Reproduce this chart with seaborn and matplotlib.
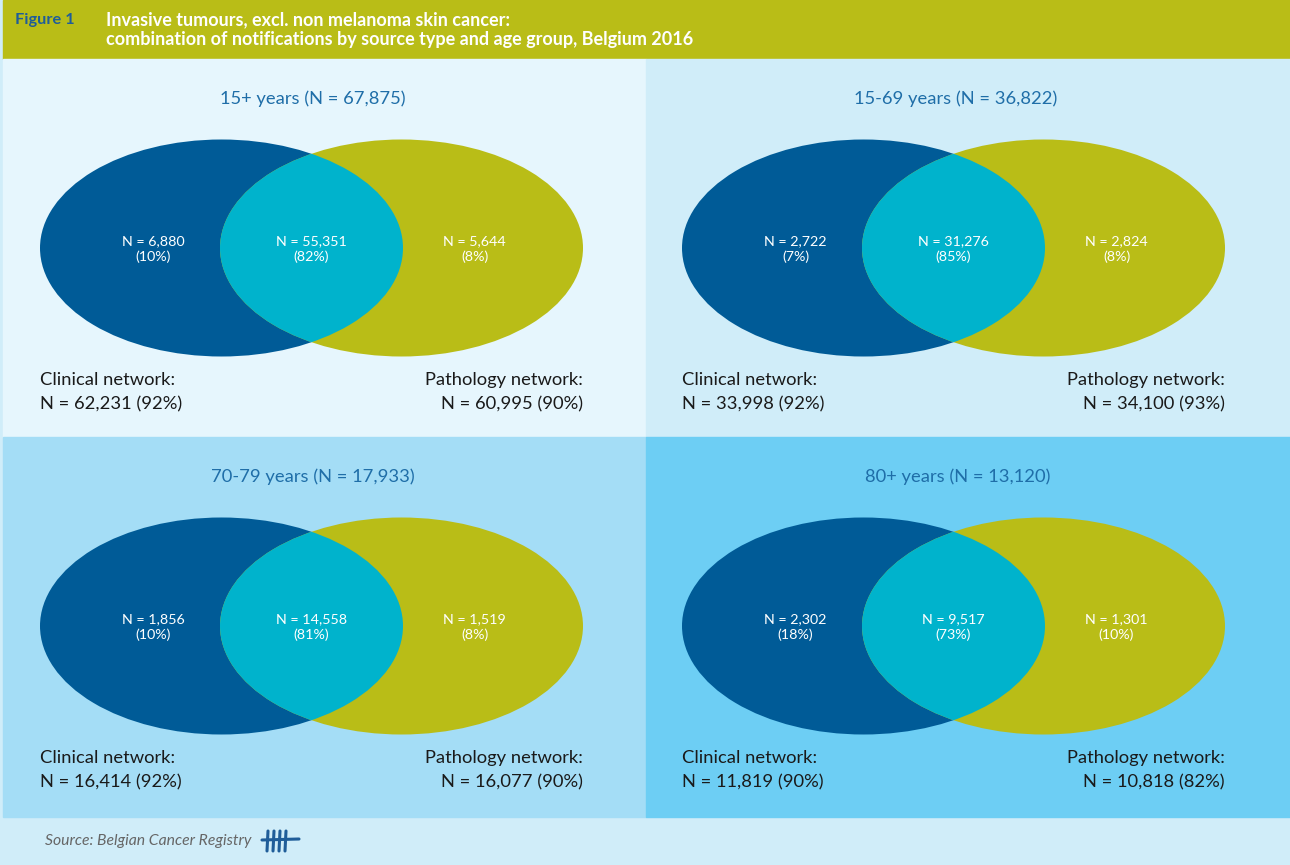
import matplotlib
matplotlib.use("Agg")
import matplotlib.pyplot as plt
import seaborn as sns
from matplotlib.patches import Ellipse, Rectangle

sns.set_theme(style="white")
plt.rcParams["font.family"] = ["Lato", "DejaVu Sans"]

# Data per age group
groups = ["15+ years", "15-69 years", "70-79 years", "80+ years"]
totals = ["67,875", "36,822", "17,933", "13,120"]
clinical_only = ["6,880", "2,722", "1,856", "2,302"]
clinical_only_pct = [10, 7, 10, 18]
both = ["55,351", "31,276", "14,558", "9,517"]
both_pct = [82, 85, 81, 73]
pathology_only = ["5,644", "2,824", "1,519", "1,301"]
pathology_only_pct = [8, 8, 8, 10]
clinical_total = ["62,231", "33,998", "16,414", "11,819"]
clinical_total_pct = [92, 92, 92, 90]
pathology_total = ["60,995", "34,100", "16,077", "10,818"]
pathology_total_pct = [90, 93, 90, 82]

panel_bg = ["#e6f6fd", "#d0edf9", "#a4ddf6", "#6dcef4"]
DARK = "#005b97"
OLIVE = "#b9bd17"
CYAN = "#00b3cc"
TITLE_BLUE = "#1f6ea8"
TEXT = "#1a1a1a"

W, H = 1290, 865
fig = plt.figure(figsize=(W / 100, H / 100), dpi=100)
ax = fig.add_axes([0, 0, 1, 1])
ax.set_xlim(0, W)
ax.set_ylim(H, 0)
ax.axis("off")

# Background bands
ax.add_patch(Rectangle((0, 0), W, H, color="#d0edf9", zorder=0))
ax.add_patch(Rectangle((3, 0), W - 3, 59, color=OLIVE, zorder=1))

ax.text(15, 20, "Figure 1", color="#1f5d99", fontsize=11.8, fontweight="bold",
        va="center", ha="left")
ax.text(106, 20, "Invasive tumours, excl. non melanoma skin cancer:", color="white",
        fontsize=12.95, fontweight="bold", va="center", ha="left")
ax.text(106, 40, "combination of notifications by source type and age group, Belgium 2016",
        color="white", fontsize=12.95, fontweight="bold", va="center", ha="left")

# Panel geometry
panels = [(3, 59, 643, 378), (646, 59, 644, 378),
          (3, 437, 643, 380), (646, 437, 644, 380)]
ew, eh = 363, 217
small = 10.3
big = 13.2

for i, (px, py, pw, ph) in enumerate(panels):
    ax.add_patch(Rectangle((px, py), pw, ph, color=panel_bg[i], zorder=1))
    ox = px + 37 if i % 2 == 0 else px + 36
    cy = py + 189
    lcx = ox + ew / 2
    rcx = lcx + 180
    cxm = (lcx + rcx) / 2

    left = Ellipse((lcx, cy), ew, eh, color=DARK, zorder=2, lw=0)
    right = Ellipse((rcx, cy), ew, eh, color=OLIVE, zorder=2, lw=0)
    ax.add_patch(left)
    ax.add_patch(right)
    inter = Ellipse((rcx, cy), ew, eh, color=CYAN, zorder=3, lw=0)
    ax.add_patch(inter)
    clip = Ellipse((lcx, cy), ew, eh, transform=ax.transData)
    inter.set_clip_path(clip)

    cx_title = px + 310 if i != 3 else px + 312
    ax.text(cx_title, py + 40, f"{groups[i]} (N = {totals[i]})", color=TITLE_BLUE,
            fontsize=big, ha="center", va="center", zorder=4)

    lx = lcx - 68
    ax.text(lx, cy - 7, f"N = {clinical_only[i]}", color="white", fontsize=small,
            ha="center", va="center", zorder=4)
    ax.text(lx, cy + 9, f"({clinical_only_pct[i]}%)", color="white", fontsize=small,
            ha="center", va="center", zorder=4)
    ax.text(cxm, cy - 7, f"N = {both[i]}", color="white", fontsize=small,
            ha="center", va="center", zorder=4)
    ax.text(cxm, cy + 9, f"({both_pct[i]}%)", color="white", fontsize=small,
            ha="center", va="center", zorder=4)
    rx = rcx + 73
    ax.text(rx, cy - 7, f"N = {pathology_only[i]}", color="white", fontsize=small,
            ha="center", va="center", zorder=4)
    ax.text(rx, cy + 9, f"({pathology_only_pct[i]}%)", color="white", fontsize=small,
            ha="center", va="center", zorder=4)

    ly = cy + 132
    ax.text(ox, ly, "Clinical network:", color=TEXT, fontsize=big,
            ha="left", va="center", zorder=4)
    ax.text(ox, ly + 24, f"N = {clinical_total[i]} ({clinical_total_pct[i]}%)",
            color=TEXT, fontsize=big, ha="left", va="center", zorder=4)
    rr = rcx + ew / 2
    ax.text(rr, ly, "Pathology network:", color=TEXT, fontsize=big,
            ha="right", va="center", zorder=4)
    ax.text(rr, ly + 24, f"N = {pathology_total[i]} ({pathology_total_pct[i]}%)",
            color=TEXT, fontsize=big, ha="right", va="center", zorder=4)

# Footer
ax.text(45, 841, "Source: Belgian Cancer Registry", color="#666666", fontsize=11.3,
        style="italic", ha="left", va="center", zorder=4)
logo = "#1f5d99"
for x0 in (268, 274, 280, 286):
    ax.plot([x0, x0 - 1], [831, 851], color=logo, lw=2.2, solid_capstyle="round", zorder=4)
ax.plot([262, 299], [840, 839], color=logo, lw=2.2, solid_capstyle="round", zorder=4)

fig.savefig("out.png", dpi=100)
